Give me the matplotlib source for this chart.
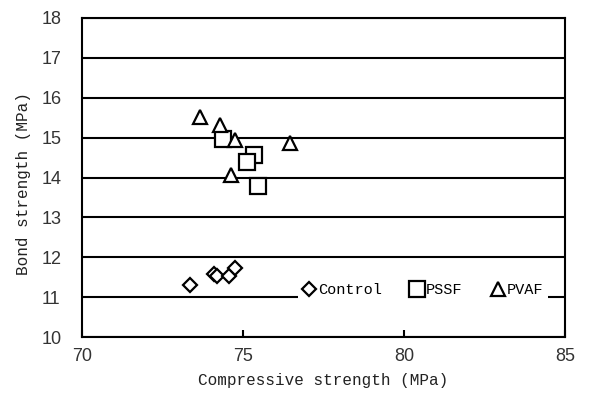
import matplotlib
matplotlib.use("Agg")
import matplotlib.pyplot as plt
from matplotlib import font_manager

names = {f.name for f in font_manager.fontManager.ttflist}
tick_font = 'Liberation Sans Narrow' if 'Liberation Sans Narrow' in names else 'Liberation Sans'
mono_font = 'Liberation Mono' if 'Liberation Mono' in names else 'DejaVu Sans Mono'

control_x = [73.35, 74.1, 74.2, 74.55, 74.75]
control_y = [11.3, 11.58, 11.52, 11.52, 11.72]
pssf_x = [74.37, 75.33, 75.11, 75.48]
pssf_y = [14.97, 14.57, 14.39, 13.79]
pvaf_x = [73.66, 74.28, 74.74, 74.62, 76.47]
pvaf_y = [15.52, 15.32, 14.94, 14.07, 14.87]

x_ticks = [70, 75, 80, 85]
y_ticks = [10, 11, 12, 13, 14, 15, 16, 17, 18]

fig = plt.figure(figsize=(5.89, 3.96), dpi=100)
ax = fig.add_axes([82/589, 1-337/396, (565-82)/589, (337-18)/396])

ax.set_xlim(70, 85)
ax.set_ylim(10, 18)
ax.set_xticks(x_ticks)
ax.set_yticks(y_ticks)
ax.yaxis.grid(True, color='black', linewidth=1.5)
ax.set_axisbelow(True)
for s in ax.spines.values():
    s.set_linewidth(1.5)
ax.tick_params(axis='x', direction='in', length=5, width=1.5, pad=8)
ax.tick_params(axis='y', length=0, pad=29)
for lab in ax.get_xticklabels() + ax.get_yticklabels():
    lab.set_fontfamily(tick_font)
    lab.set_fontsize(13)
    lab.set_color('#333333')
for lab in ax.get_yticklabels():
    lab.set_horizontalalignment('left')

kw = dict(linestyle='none', markerfacecolor='white', markeredgecolor='black', markeredgewidth=1.6)
ax.plot(control_x, control_y, marker='D', markersize=7.5, label='Control', **kw)
ax.plot(pssf_x, pssf_y, marker='s', markersize=11, label='PSSF', **kw)
ax.plot(pvaf_x, pvaf_y, marker='^', markersize=10, label='PVAF', **kw)

ax.set_xlabel('Compressive strength (MPa)', fontfamily=mono_font, fontsize=11.5, color='#222222', labelpad=6)
ax.set_ylabel('Bond strength (MPa)', fontfamily=mono_font, fontsize=11.5, color='#222222')
ax.yaxis.set_label_coords(-0.105, 0.48)

leg = ax.legend(loc='center', bbox_to_anchor=(0.706, 0.147), ncol=3, frameon=True,
                facecolor='white', edgecolor='none', framealpha=1, fancybox=False,
                handlelength=0.8, handletextpad=0.2, columnspacing=1.9,
                borderpad=0.3, borderaxespad=0, prop={'family': mono_font, 'size': 11})

fig.savefig('out.png', dpi=100)
